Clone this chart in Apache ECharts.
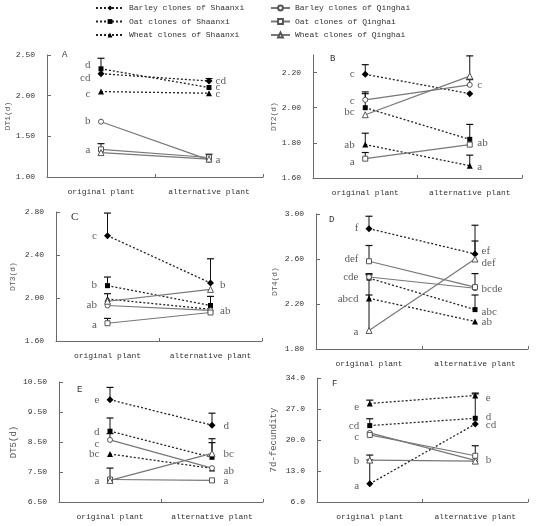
<!DOCTYPE html>
<html><head><meta charset="utf-8">
<script src="https://cdn.jsdelivr.net/npm/echarts@6/dist/echarts.min.js"></script>
<style>html,body{margin:0;padding:0;background:#fff}#c{width:536px;height:526px}</style>
</head><body><div id="c"></div>
<script>
const categories = ['original plant', 'alternative plant'];
const seriesNames = ['Barley clones of Shaanxi', 'Oat clones of Shaanxi', 'Wheat clones of Shaanxi',
  'Barley clones of Qinghai', 'Oat clones of Qinghai', 'Wheat clones of Qinghai'];

// values [original, alternative], rows in seriesNames order
const dt1 = [[2.27, 2.18], [2.33, 2.10], [2.05, 2.03], [1.68, 1.21], [1.34, 1.24], [1.30, 1.22]];
const dt1Err = [[null, 2.21], [2.46, null], [null, null], [null, null], [1.41, 1.28], [null, null]];
const dt1LetOrig = [['d', 2.38], ['cd', 2.22], ['c', 2.02], ['b', 1.69], ['a', 1.335]];
const dt1LetAlt = [['cd', 2.185], ['c', 2.10], ['c', 2.02], ['a', 1.205]];

const dt2 = [[2.19, 2.08], [2.00, 1.82], [1.79, 1.67], [2.045, 2.13], [1.71, 1.79], [1.96, 2.18]];
const dt2Err = [[2.245, null], [2.09, 1.905], [1.855, 1.73], [2.08, 2.16], [1.745, null], [null, 2.295]];
const dt2LetOrig = [['c', 2.19], ['c', 2.04], ['bc', 1.975], ['ab', 1.79], ['a', 1.69]];
const dt2LetAlt = [['c', 2.13], ['ab', 1.80], ['a', 1.66]];

const dt3 = [[2.58, 2.14], [2.115, 1.93], [1.99, 1.895], [1.93, 1.885], [1.765, 1.865], [1.97, 2.08]];
const dt3Err = [[2.79, 2.365], [2.195, 2.015], [2.04, null], [null, null], [1.81, null], [null, null]];
const dt3LetOrig = [['c', 2.577], ['b', 2.124], ['ab', 1.93], ['a', 1.746]];
const dt3LetAlt = [['b', 2.118], ['ab', 1.876]];

const dt4 = [[2.87, 2.645], [2.43, 2.15], [2.25, 2.045], [2.44, 2.34], [2.58, 2.35], [1.965, 2.60]];
const dt4Err = [[2.98, 2.90], [null, 2.28], [2.28, null], [2.47, null], [2.72, 2.47], [2.46, 2.76]];
const dt4LetOrig = [['f', 2.873], ['def', 2.598], ['cde', 2.44], ['abcd', 2.246], ['a', 1.948]];
const dt4LetAlt = [['ef', 2.672], ['def', 2.56], ['bcde', 2.335], ['abc', 2.128], ['ab', 2.036]];

const dt5 = [[9.91, 9.06], [8.86, 7.99], [8.10, 7.62], [8.57, 7.63], [7.25, 7.22], [7.22, 8.12]];
const dt5Err = [[10.32, 9.46], [9.30, 8.48], [null, null], [8.78, null], [7.63, null], [null, 8.61]];
const dt5LetOrig = [['e', 9.91], ['d', 8.83], ['c', 8.43], ['bc', 8.08], ['a', 7.19]];
const dt5LetAlt = [['d', 9.03], ['bc', 8.08], ['ab', 7.52], ['a', 7.21]];

const fec = [[10.1, 23.6], [23.25, 24.9], [28.25, 30.06], [21.6, 15.4], [21.15, 16.44], [15.46, 15.23]];
const fecErr = [[15.5, null], [24.8, 30.4], [29.0, 30.6], [null, null], [null, 18.7], [16.6, null]];
const fecLetOrig = [['e', 27.42], ['cd', 23.18], ['c', 20.68], ['b', 15.23], ['a', 9.56]];
const fecLetAlt = [['e', 29.46], ['d', 25.2], ['cd', 23.25], ['b', 15.38]];

const yTicksB = [1.6, 1.8, 2.0, 2.2];

const panels = [
  {tag: 'A', name: 'DT1(d)', data: dt1, err: dt1Err, letO: dt1LetOrig, letA: dt1LetAlt, min: 1, max: 2.5, interval: 0.5, dec: 2,
    grid: {left: 47, top: 55, width: 216, height: 122}, nameGap: 28, nameSize: 8, altDist: 6, tagPos: [62, 50, 9]},
  {tag: 'B', name: 'DT2(d)', data: dt2, err: dt2Err, letO: dt2LetOrig, letA: dt2LetAlt, min: 1.6, max: 2.3, interval: 0.2, dec: 2, custom: yTicksB,
    grid: {left: 313, top: 55, width: 209, height: 123}, nameGap: 28, nameSize: 8, altDist: 7, tagPos: [330, 54, 9]},
  {tag: 'C', name: 'DT3(d)', data: dt3, err: dt3Err, letO: dt3LetOrig, letA: dt3LetAlt, min: 1.6, max: 2.8, interval: 0.4, dec: 2,
    grid: {left: 56, top: 212, width: 206, height: 129}, nameGap: 39, nameSize: 8, altDist: 9, tagPos: [71, 212, 11]},
  {tag: 'D', name: 'DT4(d)', data: dt4, err: dt4Err, letO: dt4LetOrig, letA: dt4LetAlt, min: 1.8, max: 3.0, interval: 0.4, dec: 2,
    grid: {left: 316, top: 214, width: 212, height: 135}, nameGap: 37, nameSize: 8, altDist: 6, tagPos: [329, 215, 9]},
  {tag: 'E', name: 'DT5(d)', data: dt5, err: dt5Err, letO: dt5LetOrig, letA: dt5LetAlt, min: 6.5, max: 10.5, interval: 1, dec: 2,
    grid: {left: 59, top: 382, width: 204, height: 120}, nameGap: 41, nameSize: 9, altDist: 11, tagPos: [77, 385, 9]},
  {tag: 'F', name: '7d-fecundity', data: fec, err: fecErr, letO: fecLetOrig, letA: fecLetAlt, min: 6, max: 34, interval: 7, dec: 1,
    grid: {left: 317, top: 378, width: 211, height: 124}, nameGap: 39, nameSize: 9, altDist: 10, tagPos: [332, 379, 9]}
];

const MONO = 'Liberation Mono';
const SERIF = 'Liberation Serif';
const symbols = ['diamond', 'rect', 'triangle', 'circle', 'rect', 'triangle'];
const symSizes = [7, 5, 6, 5, 5, 6];

const grids = [], xAxes = [], yAxes = [], series = [], graphics = [];

panels.forEach((p, pi) => {
  grids.push(Object.assign({outerBoundsMode: 'none', containLabel: false}, p.grid));
  xAxes.push({
    type: 'category', gridIndex: pi, data: categories, boundaryGap: true,
    axisLine: {show: true, lineStyle: {color: '#6a6a6a', width: 1}},
    axisTick: {show: true, inside: true, length: 3, lineStyle: {color: '#6a6a6a'}},
    axisLabel: {interval: 0, hideOverlap: false, margin: 11, fontFamily: MONO, fontSize: 8, color: '#333'},
    splitLine: {show: false}
  });
  const yAx = {
    type: 'value', gridIndex: pi, min: p.min, max: p.max, interval: p.interval,
    name: p.name, nameLocation: 'middle', nameGap: p.nameGap, nameRotate: 90,
    nameTextStyle: {fontFamily: MONO, fontSize: p.nameSize, color: '#555'},
    axisLine: {show: true, lineStyle: {color: '#6a6a6a', width: 1}},
    axisTick: {show: true, inside: true, length: 4, lineStyle: {color: '#6a6a6a'}},
    axisLabel: {margin: 12, fontFamily: MONO, fontSize: 8, color: '#333',
      formatter: v => Number(v).toFixed(p.dec)},
    splitLine: {show: false}
  };
  if (p.custom) {
    yAx.axisLabel.customValues = p.custom;
    yAx.axisTick.customValues = p.custom;
  }
  yAxes.push(yAx);

  // error bars
  const errData = [];
  p.err.forEach((row, si) => {
    row.forEach((top, ci) => {
      if (top != null) errData.push([ci, p.data[si][ci], top]);
    });
  });
  series.push({
    type: 'custom', xAxisIndex: pi, yAxisIndex: pi, silent: true, z: 1,
    data: errData, encode: {x: 0, y: [1, 2]},
    renderItem: (params, api) => {
      const c = api.value(0), v = api.value(1), t = api.value(2);
      const a = api.coord([c, v]), b = api.coord([c, t]);
      return {type: 'group', children: [
        {type: 'line', shape: {x1: a[0], y1: a[1], x2: b[0], y2: b[1]}, style: {stroke: '#111', lineWidth: 1}},
        {type: 'line', shape: {x1: b[0] - 3.5, y1: b[1], x2: b[0] + 3.5, y2: b[1]}, style: {stroke: '#111', lineWidth: 1.2}}
      ]};
    }
  });

  // lines
  p.data.forEach((vals, si) => {
    const shaanxi = si < 3;
    series.push({
      type: 'line', name: seriesNames[si], xAxisIndex: pi, yAxisIndex: pi, z: 3,
      data: vals, symbol: symbols[si], symbolSize: symSizes[si], showSymbol: true,
      itemStyle: shaanxi ? {color: '#000'} : {color: '#fff', borderColor: '#555', borderWidth: 1},
      lineStyle: shaanxi ? {color: '#222', width: 1.3, type: [2, 2]} : {color: '#777', width: 1.2},
      emphasis: {disabled: true}, silent: true
    });
  });

  // significance letters
  const mk = (arr, ci) => arr.map(d => [ci, d[1], d[0]]);
  series.push({
    type: 'scatter', xAxisIndex: pi, yAxisIndex: pi, silent: true, z: 4,
    data: mk(p.letO, 0), encode: {x: 0, y: 1}, symbolSize: 1, itemStyle: {color: 'transparent'},
    label: {show: true, position: 'left', distance: 10, formatter: q => q.data[2],
      fontFamily: SERIF, fontSize: 11, color: '#333'}
  });
  series.push({
    type: 'scatter', xAxisIndex: pi, yAxisIndex: pi, silent: true, z: 4,
    data: mk(p.letA, 1), encode: {x: 0, y: 1}, symbolSize: 1, itemStyle: {color: 'transparent'},
    label: {show: true, position: 'right', distance: p.altDist, formatter: q => q.data[2],
      fontFamily: SERIF, fontSize: 11, color: '#333'}
  });

  graphics.push({type: 'text', left: p.tagPos[0], top: p.tagPos[1],
    style: {text: p.tag, font: p.tagPos[2] + 'px ' + (p.tagPos[2] > 10 ? SERIF : MONO), fill: '#333'}});
});

const legendText = {fontFamily: MONO, fontSize: 8, color: '#333', lineHeight: 10};
const option = {
  animation: false,
  backgroundColor: '#fff',
  legend: [
    {data: seriesNames.slice(0, 3), orient: 'vertical', left: 95, top: 3, itemWidth: 28, itemHeight: 6,
      itemGap: 3.5, selectedMode: false, textStyle: legendText, padding: 0},
    {data: seriesNames.slice(3), orient: 'vertical', left: 270, top: 3, itemWidth: 19, itemHeight: 6,
      itemGap: 3.5, selectedMode: false, textStyle: legendText, padding: 0}
  ],
  grid: grids, xAxis: xAxes, yAxis: yAxes, series: series, graphic: graphics
};
const chart = echarts.init(document.getElementById('c'));
chart.setOption(option);
</script></body></html>
